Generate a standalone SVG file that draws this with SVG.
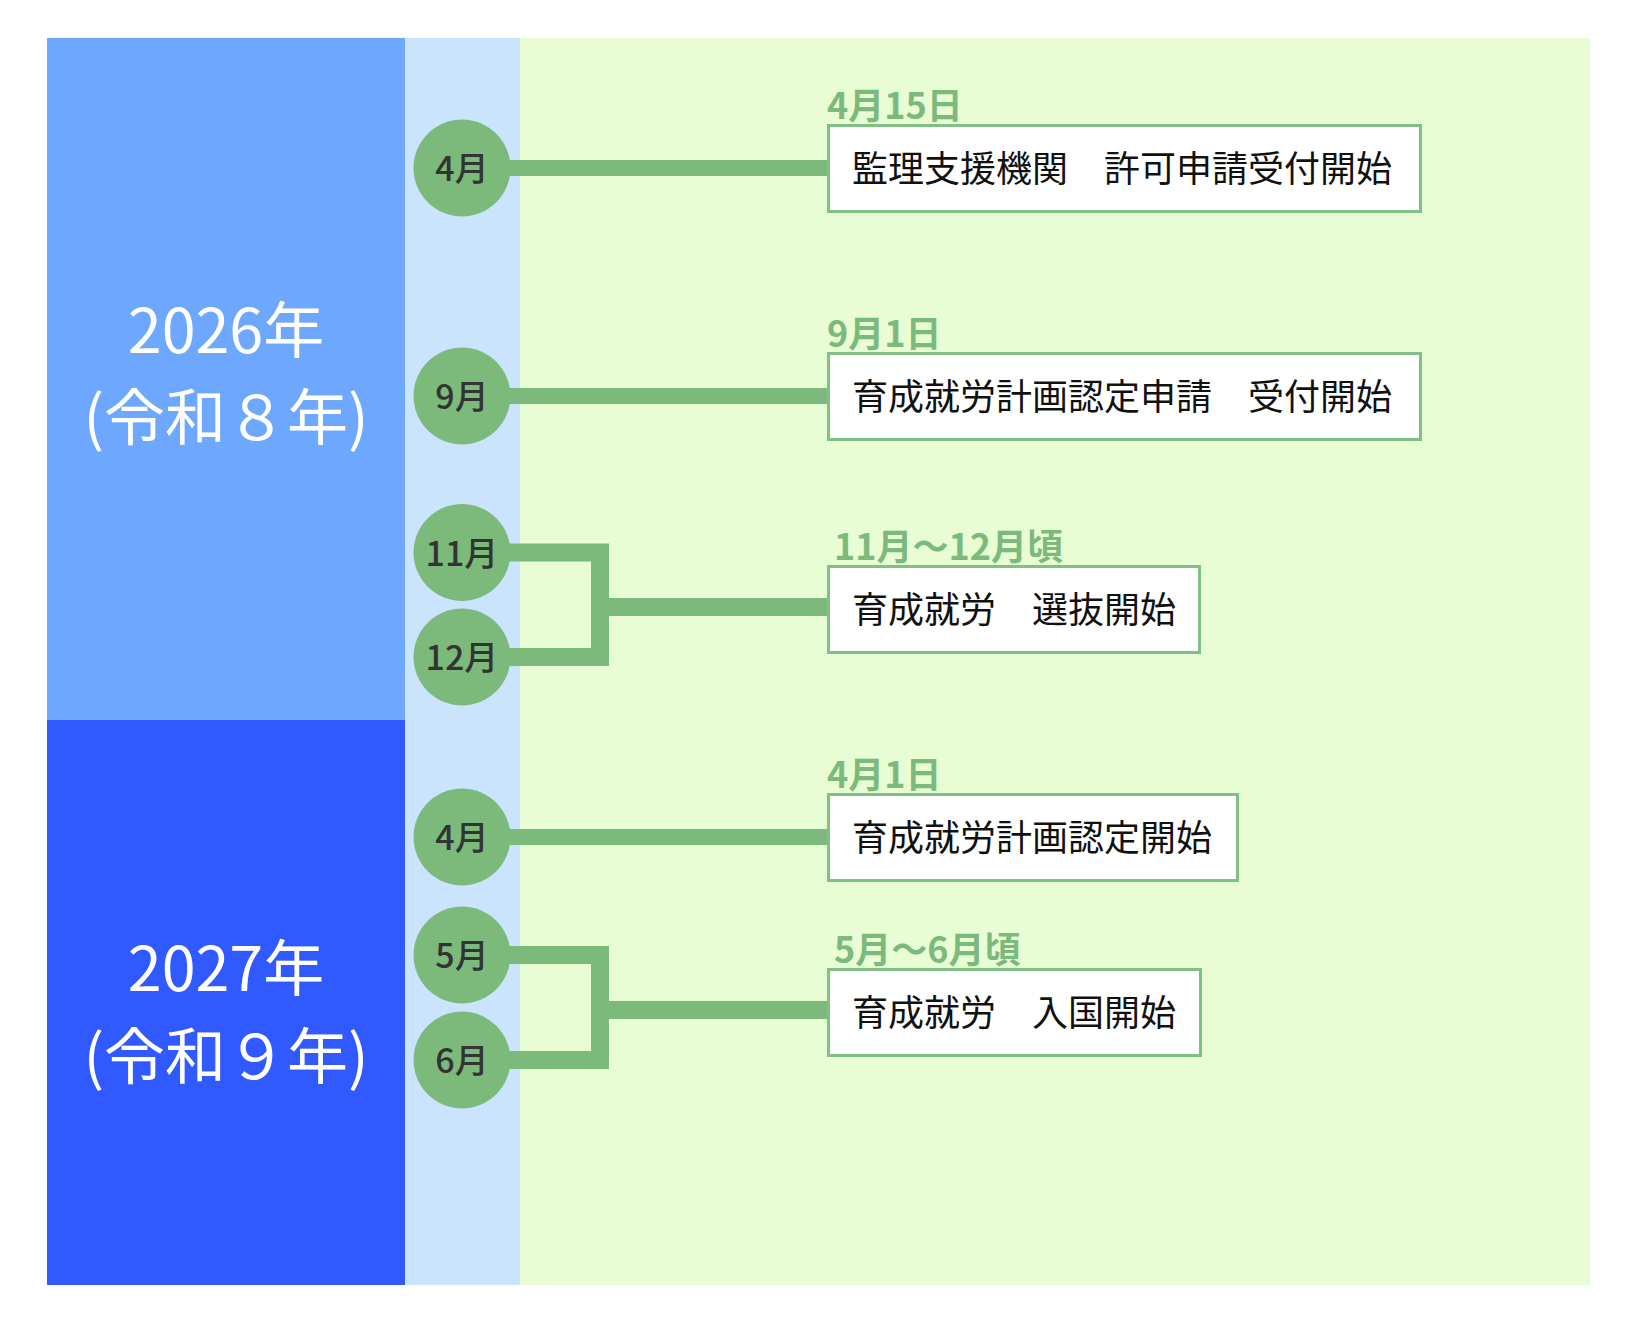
<svg xmlns="http://www.w3.org/2000/svg" width="1638" height="1330" viewBox="0 0 1638 1330">
<style>
.year{font-family:"Noto Sans CJK JP",sans-serif;font-size:61px;fill:#ffffff;text-anchor:middle}
.mon{font-family:"Noto Sans CJK JP",sans-serif;font-size:34px;font-weight:500;fill:#333333;text-anchor:middle}
.circ{fill:#7cba7c}
.box{fill:#ffffff;stroke:#80c084;stroke-width:3}
.btxt{font-family:"Noto Sans CJK JP",sans-serif;font-size:36px;fill:#111111}
.date{font-family:"Noto Sans CJK JP",sans-serif;font-size:36px;font-weight:700;fill:#7cba7c}
.ln{fill:none;stroke:#7cba7c;stroke-width:16}
.br{fill:none;stroke:#7cba7c;stroke-width:18;stroke-linejoin:miter}
</style>
<rect width="1638" height="1330" fill="#ffffff"/>
<g id="backgrounds">
<rect x="520" y="38" width="1070" height="1247" fill="#e9fdd5"/>
<rect x="405" y="38" width="115" height="1247" fill="#cbe4fd"/>
</g>
<g id="year-2026">
<rect x="47" y="38" width="358" height="682" fill="#6ea8fe"/>
<text class="year" x="226" y="353">2026年</text>
<text class="year" x="226" y="440">(令和８年)</text>
</g>
<g id="year-2027">
<rect x="47" y="720" width="358" height="565" fill="#3059ff"/>
<text class="year" x="226" y="991">2027年</text>
<text class="year" x="226" y="1079">(令和９年)</text>
</g>
<g id="connectors">
<line class="ln" x1="462" y1="168" x2="828" y2="168"/>
<line class="ln" x1="462" y1="396" x2="828" y2="396"/>
<path class="br" d="M462 552.5 H600 V657 H462"/>
<line class="br" x1="600" y1="607" x2="828" y2="607"/>
<line class="ln" x1="462" y1="837" x2="828" y2="837"/>
<path class="br" d="M462 955 H600 V1060 H462"/>
<line class="br" x1="600" y1="1010" x2="828" y2="1010"/>
</g>
<g id="month-2026-04"><circle class="circ" cx="462" cy="168" r="48.5"/><text class="mon" x="462" y="181">4月</text></g>
<g id="month-2026-09"><circle class="circ" cx="462" cy="396" r="48.5"/><text class="mon" x="462" y="409">9月</text></g>
<g id="month-2026-11"><circle class="circ" cx="462" cy="552.5" r="48.5"/><text class="mon" x="462" y="565.5">11月</text></g>
<g id="month-2026-12"><circle class="circ" cx="462" cy="657" r="48.5"/><text class="mon" x="462" y="670">12月</text></g>
<g id="month-2027-04"><circle class="circ" cx="462" cy="837" r="48.5"/><text class="mon" x="462" y="850">4月</text></g>
<g id="month-2027-05"><circle class="circ" cx="462" cy="955" r="48.5"/><text class="mon" x="462" y="968">5月</text></g>
<g id="month-2027-06"><circle class="circ" cx="462" cy="1060" r="48.5"/><text class="mon" x="462" y="1073">6月</text></g>
<g id="event-1">
<text class="date" x="827" y="119">4月15日</text>
<rect class="box" x="828.5" y="125.5" width="592" height="86"/>
<text class="btxt" x="852" y="182">監理支援機関　許可申請受付開始</text>
</g>
<g id="event-2">
<text class="date" x="827" y="347">9月1日</text>
<rect class="box" x="828.5" y="353.5" width="592" height="86"/>
<text class="btxt" x="852" y="410">育成就労計画認定申請　受付開始</text>
</g>
<g id="event-3">
<text class="date" x="834" y="560">11月～12月頃</text>
<rect class="box" x="828.5" y="566.5" width="371" height="86"/>
<text class="btxt" x="852" y="623">育成就労　選抜開始</text>
</g>
<g id="event-4">
<text class="date" x="827" y="788">4月1日</text>
<rect class="box" x="828.5" y="794.5" width="409" height="86"/>
<text class="btxt" x="852" y="851">育成就労計画認定開始</text>
</g>
<g id="event-5">
<text class="date" x="834" y="963">5月～6月頃</text>
<rect class="box" x="828.5" y="969.5" width="372" height="86"/>
<text class="btxt" x="852" y="1026">育成就労　入国開始</text>
</g>
</svg>
